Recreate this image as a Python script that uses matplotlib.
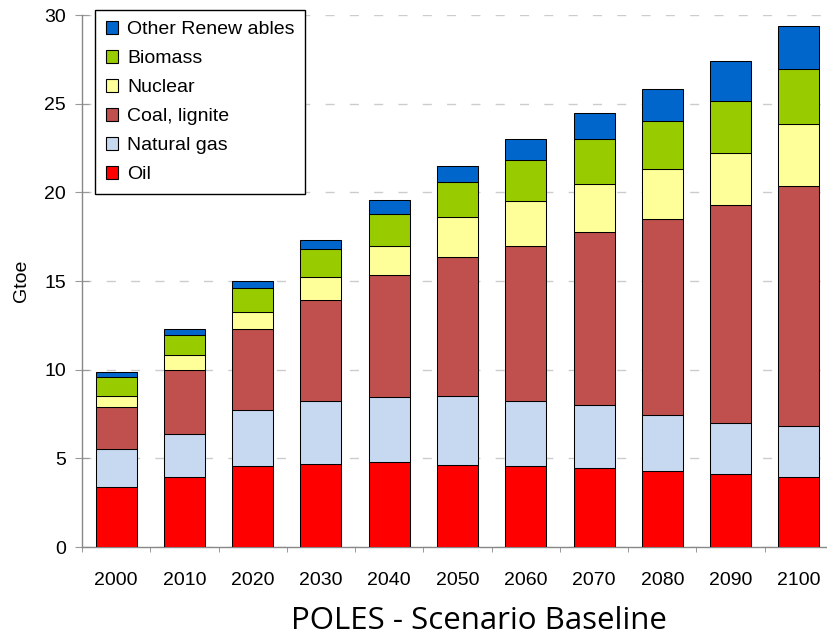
import matplotlib
matplotlib.use("Agg")
import matplotlib.pyplot as plt
from matplotlib.patches import Patch
import numpy as np

plt.rcParams['font.family'] = ['Liberation Sans', 'DejaVu Sans']

# Data (Gtoe)
years = ["2000", "2010", "2020", "2030", "2040", "2050",
         "2060", "2070", "2080", "2090", "2100"]
oil = [3.39, 3.95, 4.59, 4.68, 4.78, 4.64, 4.54, 4.44, 4.31, 4.13, 3.93]
natural_gas = [2.13, 2.40, 3.13, 3.54, 3.67, 3.87, 3.67, 3.56, 3.15, 2.89, 2.90]
coal_lignite = [2.38, 3.65, 4.58, 5.73, 6.87, 7.86, 8.79, 9.74, 11.03, 12.29, 13.53]
nuclear = [0.64, 0.84, 0.94, 1.26, 1.67, 2.22, 2.52, 2.72, 2.82, 2.93, 3.47]
biomass = [1.03, 1.13, 1.35, 1.57, 1.77, 1.97, 2.31, 2.52, 2.70, 2.92, 3.15]
other_renewables = [0.32, 0.33, 0.41, 0.52, 0.83, 0.95, 1.15, 1.48, 1.82, 2.22, 2.40]

series = [
    ("Oil", oil, "#FF0000"),
    ("Natural gas", natural_gas, "#C6D9F0"),
    ("Coal, lignite", coal_lignite, "#C0504D"),
    ("Nuclear", nuclear, "#FFFF99"),
    ("Biomass", biomass, "#99CC00"),
    ("Other Renew ables", other_renewables, "#0066CC"),
]

W, H = 828, 638
fig = plt.figure(figsize=(W / 100, H / 100), dpi=100)
# axes from x=82 to ~833 px, y from 15 to 547 px
ax = fig.add_axes([82 / W, (H - 547) / H, (833 - 82) / W, (547 - 15) / H])

x = np.arange(len(years))
bottom = np.zeros(len(years))
for name, vals, color in series:
    ax.bar(x, vals, width=0.6, bottom=bottom, color=color,
           edgecolor="black", linewidth=0.75, zorder=3)
    bottom += np.array(vals)

ax.set_xlim(-0.5, len(years) - 0.5)
ax.set_ylim(0, 30)
ax.set_yticks(np.arange(0, 31, 5))
ax.yaxis.grid(True, linestyle=(0, (6.5, 11)), color="#CCCCCC", linewidth=1.0, zorder=0)

ax.set_xticks(x)
ax.set_xticklabels(years, fontsize=14)
ax.set_xticks(np.arange(-0.5, len(years), 1), minor=True)
ax.tick_params(axis="x", which="major", length=0, pad=18)
ax.tick_params(axis="x", which="minor", length=3.6, color="#888888")
ax.tick_params(axis="y", direction="inout", length=10, color="#999999",
               labelsize=14, pad=6.5)

for s in ["top", "right"]:
    ax.spines[s].set_visible(False)
for s in ["left", "bottom"]:
    ax.spines[s].set_color("#888888")
    ax.spines[s].set_linewidth(1.0)

ax.set_ylabel("Gtoe", fontsize=14)
ax.yaxis.set_label_coords(-0.069, 0.5)

handles = [Patch(facecolor=c, edgecolor="black", linewidth=0.8, label=n)
           for n, v, c in reversed(series)]
leg = ax.legend(handles=handles, loc="upper left", bbox_to_anchor=(0.0173, 1.0094),
                fontsize=14, frameon=True, fancybox=False, framealpha=1,
                edgecolor="black", handlelength=0.65, handleheight=0.65,
                handletextpad=0.45, labelspacing=0.6, borderpad=0.55,
                borderaxespad=0)
leg.get_frame().set_linewidth(1.0)

fig.text(479 / W, 1 - 629 / H, "POLES - Scenario Baseline", fontsize=22.5,
         family=["Open Sans", "DejaVu Sans"], ha="center", va="baseline")

fig.savefig("out.png", dpi=100)
